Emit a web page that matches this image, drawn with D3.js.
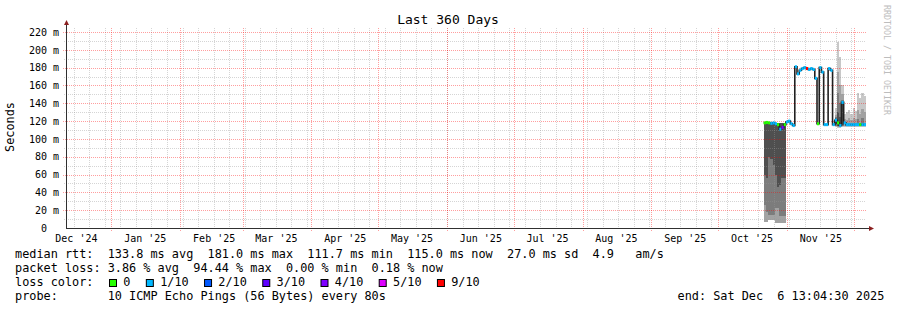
<!DOCTYPE html>
<html>
<head>
<meta charset="utf-8">
<script src="https://cdn.jsdelivr.net/npm/d3@7"></script>
<style>
  body { margin: 0; background: #fff; }
  text { font-family: 'DejaVu Sans Mono', monospace; white-space: pre; }
</style>
</head>
<body>
<div id="chart"></div>
<script>
// Data
const endTime = new Date(2025, 11, 6, 13, 4, 30);
const startTime = new Date(endTime.getTime() - 360 * 864e5);
const dataStart = new Date(2025, 9, 21, 12, 0, 0); // one value per day from here

const yTicks = [0, 20, 40, 60, 80, 100, 120, 140, 160, 180, 200, 220];

// median rtt (ms), one per day
const median = [
  118, 118.5, 118, 117.5, 118, 117, 116, 111, 113, 116,
  119, 120, 117, 115, 181, 173, 177, 179, 180, 179,
  178, 179, 178, 168, 117, 180, 175, 116, 116, 179,
  177, 116, 121, 118, 115, 141, 118, 116, 116, 116,
  116, 116, 116, 116, 116, 116
];

// lost pings out of 10, one per day
const loss = [
  0, 0, 0, 1, 1, 1, 0, 1, 4, 0,
  1, 1, 1, 1, 1, 1, 1, 1, 1, 9,
  1, 1, 1, 1, 0, 1, 1, 1, 1, 1,
  1, 1, 1, 0, 1, 1, 1, 1, 1, 1,
  1, 1, 1, 0, 1, 1
];

// smoke bands [low, high] in ms, null where nothing is drawn
const smokeLight = [
  null, null, null, null, null, null, null, null, null, null,
  null, null, null, null, null, null, null, null, null, null,
  null, null, null, null, null, null, null, null, null, null,
  null, null, [113, 135], [112, 209], [112, 192], [113, 160], [113, 128], [113, 130], [113, 133], [113, 128],
  [113, 135], [113, 131], [113, 152], [113, 146], [113, 151], [113, 148]
];
const smokeMid = [
  [7, 118], [7, 118], [9, 118], [9, 118], [9, 118], [6, 118], [6, 118], [6, 118], [6, 118], [6, 118],
  null, null, null, null, null, null, null, null, null, null,
  null, null, null, null, null, null, null, null, null, null,
  null, null, [114, 127], [113, 175], [113, 160], [114, 150], [114, 122], [114, 121], [114, 123], [114, 121],
  [114, 124], [114, 122], [114, 132], [114, 128], [114, 134], [114, 130]
];
const smokeDark = [
  [26, 118], [18, 118], [15, 118], [15, 118], [15, 118], [23, 118], [23, 118], [13, 118], [13, 118], [13, 118],
  null, null, null, null, null, null, null, null, null, null,
  null, null, null, null, null, null, null, null, null, null,
  null, null, [115, 125], [114, 152], [114, 140], [115, 144], null, null, null, null,
  null, null, [115, 122], null, [115, 124], null
];
const smokeCore = [
  [59, 118], [56, 118], [80, 118], [78, 118], [71, 118], [60, 118], [46, 118], [48, 118], [56, 118], [56, 118],
  null, null, null, null, null, null, null, null, null, null,
  null, null, null, null, null, null, null, null, null, null,
  null, null, [116, 124], [115, 130], [115, 125], [116, 141], null, null, null, null,
  null, null, null, null, null, null
];

const lossLabels = ['0', '1/10', '2/10', '3/10', '4/10', '5/10', '9/10'];
const lossColors = ['#26ff00', '#00b8ff', '#0059ff', '#5e00ff', '#7e00ff', '#dd00ff', '#ff0000'];

const legendLines = [
  'median rtt:  133.8 ms avg  181.0 ms max  111.7 ms min  115.0 ms now  27.0 ms sd  4.9   am/s',
  'packet loss: 3.86 % avg  94.44 % max  0.00 % min  0.18 % now',
];
const probeText = 'probe:       10 ICMP Echo Pings (56 Bytes) every 80s';
const endText = 'end: Sat Dec  6 13:04:30 2025';

// Dimensions
const dimensions = { width: 897, height: 310, left: 66, right: 866, top: 28, bottom: 228 };
const charW = 7.13;

const svg = d3
  .select('#chart')
  .append('svg')
  .attr('width', dimensions.width)
  .attr('height', dimensions.height);

// Scales
const xScale = d3.scaleTime().domain([startTime, endTime]).range([dimensions.left, dimensions.right]);
const yScale = d3.scaleLinear().domain([0, 224.5]).range([dimensions.bottom, dimensions.top]);

const times = median.map((_, i) => new Date(dataStart.getTime() + i * 864e5));
const stepEnd = (i) => (i + 1 < times.length ? times[i + 1] : endTime);

// Smoke
const layers = [
  { data: smokeLight, color: '#c8c8c8' },
  { data: smokeMid, color: '#a2a2a2' },
  { data: smokeDark, color: '#7c7c7c' },
  { data: smokeCore, color: '#4f4f4f' },
];
layers.forEach((layer) => {
  svg
    .append('g')
    .selectAll('rect')
    .data(layer.data.map((d, i) => ({ d, i })).filter((o) => o.d))
    .join('rect')
    .attr('x', (o) => xScale(times[o.i]))
    .attr('width', (o) => xScale(stepEnd(o.i)) - xScale(times[o.i]))
    .attr('y', (o) => yScale(o.d[1]))
    .attr('height', (o) => yScale(o.d[0]) - yScale(o.d[1]))
    .attr('fill', layer.color)
    .attr('shape-rendering', 'crispEdges');
});

// Grid (drawn over the smoke, like rrdtool)
const grid = svg.append('g').attr('shape-rendering', 'crispEdges').attr('stroke-dasharray', '1,1');
const minorColor = 'rgba(150,150,150,0.4)';
const majorColor = 'rgba(255,0,0,0.38)';
const minorY = d3.range(10, 224, 20);
grid
  .selectAll('.hmin')
  .data(minorY)
  .join('line')
  .attr('x1', dimensions.left - 2)
  .attr('x2', dimensions.right)
  .attr('y1', (d) => Math.round(yScale(d)) + 0.5)
  .attr('y2', (d) => Math.round(yScale(d)) + 0.5)
  .attr('stroke', minorColor);
grid
  .selectAll('.vmin')
  .data(d3.timeSunday.range(startTime, endTime))
  .join('line')
  .attr('x1', (d) => Math.round(xScale(d)) + 0.5)
  .attr('x2', (d) => Math.round(xScale(d)) + 0.5)
  .attr('y1', dimensions.top)
  .attr('y2', dimensions.bottom + 2)
  .attr('stroke', minorColor);
grid
  .selectAll('.hmaj')
  .data(yTicks.filter((d) => d > 0))
  .join('line')
  .attr('x1', dimensions.left - 3)
  .attr('x2', dimensions.right)
  .attr('y1', (d) => Math.round(yScale(d)) + 0.5)
  .attr('y2', (d) => Math.round(yScale(d)) + 0.5)
  .attr('stroke', majorColor);
grid
  .selectAll('.vmaj')
  .data(d3.timeMonth.range(startTime, endTime))
  .join('line')
  .attr('x1', (d) => Math.round(xScale(d)) + 0.5)
  .attr('x2', (d) => Math.round(xScale(d)) + 0.5)
  .attr('y1', dimensions.top)
  .attr('y2', dimensions.bottom + 3)
  .attr('stroke', majorColor);

// Median line
const linePoints = median.map((m, i) => [times[i], m]).concat([[endTime, median[median.length - 1]]]);
svg
  .append('path')
  .datum(linePoints)
  .attr('fill', 'none')
  .attr('stroke', '#202020')
  .attr('stroke-width', 1.6)
  .attr(
    'd',
    d3
      .line()
      .x((d) => xScale(d[0]))
      .y((d) => yScale(d[1]))
      .curve(d3.curveStepAfter)
  );

// Loss colour on the median
const lossIndex = (n) => (n > 5 ? 6 : n);
svg
  .append('g')
  .selectAll('rect')
  .data(median.map((m, i) => ({ m, i })))
  .join('rect')
  .attr('x', (o) => xScale(times[o.i]))
  .attr('width', (o) => xScale(stepEnd(o.i)) - xScale(times[o.i]))
  .attr('y', (o) => yScale(o.m) - 1.5)
  .attr('height', 3)
  .attr('fill', (o) => lossColors[lossIndex(loss[o.i])]);

// Axes
const axisColor = '#303030';
const arrowColor = '#8b2020';
svg
  .append('line')
  .attr('x1', dimensions.left + 0.5)
  .attr('x2', dimensions.left + 0.5)
  .attr('y1', dimensions.bottom)
  .attr('y2', dimensions.top - 4)
  .attr('stroke', axisColor);
svg
  .append('line')
  .attr('x1', dimensions.left)
  .attr('x2', dimensions.right + 4)
  .attr('y1', dimensions.bottom + 0.5)
  .attr('y2', dimensions.bottom + 0.5)
  .attr('stroke', axisColor);
svg
  .append('path')
  .attr('d', `M${dimensions.left - 2},${dimensions.top - 3}L${dimensions.left + 3},${dimensions.top - 3}L${dimensions.left + 0.5},${dimensions.top - 8}Z`)
  .attr('fill', arrowColor);
svg
  .append('path')
  .attr('d', `M${dimensions.right + 3},${dimensions.bottom - 2}L${dimensions.right + 3},${dimensions.bottom + 3}L${dimensions.right + 8},${dimensions.bottom + 0.5}Z`)
  .attr('fill', arrowColor);

const yAxis = d3
  .axisLeft(yScale)
  .tickValues(yTicks)
  .tickSize(0)
  .tickPadding(7)
  .tickFormat((d) => (d === 0 ? '0  ' : `${d} m`));
const yAxisGroup = svg.append('g').attr('transform', `translate(${dimensions.left},0)`).call(yAxis);
yAxisGroup.select('.domain').remove();
yAxisGroup.attr('font-family', null).attr('font-size', 10).selectAll('text').attr('fill', '#000');

const labelDates = d3
  .timeMonth.range(d3.timeMonth.floor(startTime), endTime)
  .map((d) => d3.timeDay.offset(d, 15))
  .filter((d) => d >= startTime && d <= endTime);
const xAxis = d3.axisBottom(xScale).tickValues(labelDates).tickSize(0).tickPadding(6.4).tickFormat(d3.timeFormat("%b '%y"));
const xAxisGroup = svg.append('g').attr('transform', `translate(0,${dimensions.bottom})`).call(xAxis);
xAxisGroup.select('.domain').remove();
xAxisGroup.attr('font-family', null).attr('font-size', 10).selectAll('text').attr('fill', '#000');

// Titles
svg
  .append('text')
  .attr('x', 448)
  .attr('y', 24)
  .attr('text-anchor', 'middle')
  .attr('font-size', 13)
  .text('Last 360 Days');

svg
  .append('text')
  .attr('transform', 'translate(14,127) rotate(-90)')
  .attr('text-anchor', 'middle')
  .attr('font-size', 11.85)
  .text('Seconds');

svg
  .append('text')
  .attr('transform', 'translate(883.5,5) rotate(90)')
  .attr('font-size', 8.3)
  .attr('fill', '#bdbdbd')
  .text('RRDTOOL / TOBI OETIKER');

// Legend
const legend = svg.append('g').attr('font-size', 11.85);
legend
  .selectAll('.line')
  .data(legendLines)
  .join('text')
  .attr('x', 15)
  .attr('y', (d, i) => 258 + i * 14)
  .text((d) => d);

legend.append('text').attr('x', 15).attr('y', 286).text('loss color:');
let cursor = 109;
lossLabels.forEach((label, i) => {
  legend
    .append('rect')
    .attr('x', cursor + 0.5)
    .attr('y', 279.5)
    .attr('width', 7)
    .attr('height', 7)
    .attr('fill', lossColors[i])
    .attr('stroke', '#000');
  legend
    .append('text')
    .attr('x', cursor + 14.3)
    .attr('y', 286)
    .text(label);
  cursor = cursor + 14.3 + label.length * charW + 15.4;
});

legend.append('text').attr('x', 15).attr('y', 300).text(probeText);
legend.append('text').attr('x', 677.5).attr('y', 300).text(endText);
</script>
</body>
</html>
